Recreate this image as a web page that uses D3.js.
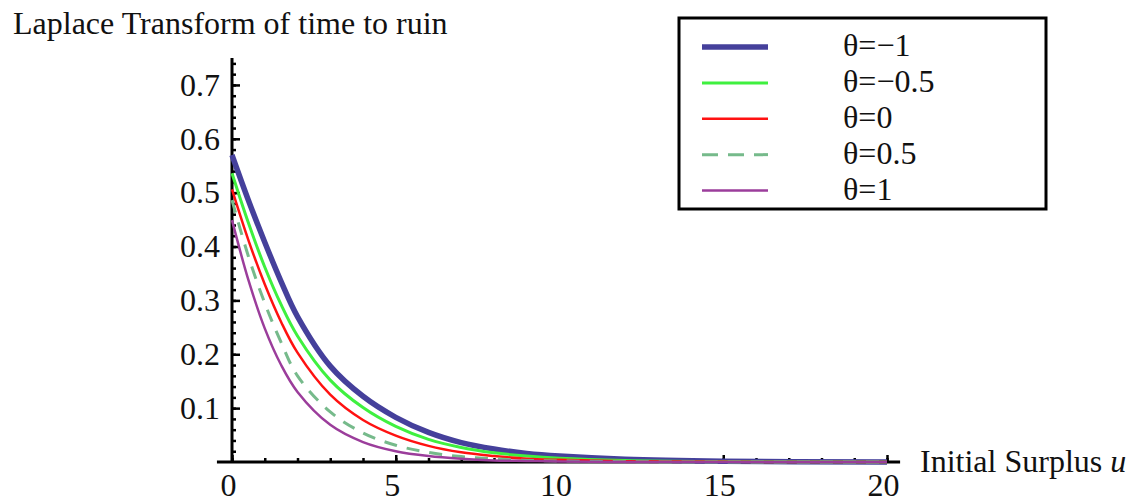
<!DOCTYPE html>
<html>
<head>
<meta charset="utf-8">
<script src="https://cdn.jsdelivr.net/npm/d3@7"></script>
<style>
  body { margin: 0; background: #fff; }
  text { font-family: "Liberation Serif", "DejaVu Serif", serif; fill: #111; }
</style>
</head>
<body>
<script>
var svgWidth = 1135;
var svgHeight = 504;

// data
var uValues = [0, 0.5, 1, 1.5, 2, 3, 4, 5, 6, 7, 8, 9, 10, 12, 15, 20];
var thetaLabels = ["θ=−1", "θ=−0.5", "θ=0", "θ=0.5", "θ=1"];
var thetaM1  = [0.570, 0.486, 0.408, 0.335, 0.270, 0.178, 0.122, 0.083, 0.055, 0.036, 0.024, 0.016, 0.011, 0.005, 0.0015, 0.0002];
var thetaM05 = [0.536, 0.444, 0.362, 0.292, 0.234, 0.152, 0.101, 0.066, 0.042, 0.027, 0.017, 0.011, 0.007, 0.003, 0.001, 0];
var theta0   = [0.506, 0.412, 0.330, 0.260, 0.203, 0.125, 0.078, 0.049, 0.030, 0.018, 0.011, 0.006, 0.004, 0.0015, 0.0003, 0];
var theta05  = [0.486, 0.382, 0.295, 0.222, 0.160, 0.093, 0.054, 0.031, 0.018, 0.010, 0.006, 0.003, 0.002, 0.0005, 0, 0];
var theta1   = [0.449, 0.338, 0.248, 0.180, 0.130, 0.069, 0.037, 0.020, 0.011, 0.006, 0.003, 0.002, 0.001, 0, 0, 0];
var xMajorTicks = [0, 5, 10, 15, 20];
var yMajorTicks = [0.1, 0.2, 0.3, 0.4, 0.5, 0.6, 0.7];

var seriesValues = [thetaM1, thetaM05, theta0, theta05, theta1];
var seriesColors = ["#45409b", "#3ff03f", "#ff1111", "#76ba8b", "#9b3d9b"];
var seriesWidths = [5.5, 3, 2.5, 3, 2.5];
var seriesDash = [null, null, null, "13,10", null];

var svg = d3.select('body').append('svg')
    .attr('width', svgWidth)
    .attr('height', svgHeight);

// scales
var xScale = d3.scaleLinear().domain([0, 20]).range([232, 887]);
var yScale = d3.scaleLinear().domain([0, 0.75]).range([462, 58]);

// x axis: ticks inside, labels below
var xAxisG = svg.append("g").attr("transform", `translate(0, ${yScale(0)})`);
xAxisG.append("g")
    .call(d3.axisTop(xScale).tickValues(d3.range(0, 21, 1)).tickSize(4).tickFormat(""))
    .call(g => g.select(".domain").remove());
xAxisG.append("g")
    .call(d3.axisTop(xScale).tickValues(xMajorTicks).tickSize(7).tickFormat(""))
    .call(g => g.select(".domain").remove());
xAxisG.selectAll(".tick line").attr("stroke", "#000").attr("stroke-width", 2.5);
xAxisG.append("g")
    .call(d3.axisBottom(xScale).tickValues(xMajorTicks).tickSize(0).tickPadding(11))
    .call(g => g.select(".domain").remove())
    .selectAll("text")
    .attr("dx", "-4px")
    .style("font-size", "32px")
    .style("font-family", "Liberation Serif");
xAxisG.append("line")
    .attr("x1", xScale(-0.46)).attr("x2", xScale(20.4))
    .attr("stroke", "#000").attr("stroke-width", 3);

// y axis
var yAxisG = svg.append("g").attr("transform", `translate(${xScale(0)}, 0)`);
yAxisG.append("g")
    .call(d3.axisRight(yScale).tickValues(d3.range(0.02, 0.75, 0.02)).tickSize(4).tickFormat(""))
    .call(g => g.select(".domain").remove());
yAxisG.append("g")
    .call(d3.axisRight(yScale).tickValues(yMajorTicks).tickSize(8).tickFormat(""))
    .call(g => g.select(".domain").remove());
yAxisG.selectAll(".tick line").attr("stroke", "#000").attr("stroke-width", 2.5);
yAxisG.append("g")
    .call(d3.axisLeft(yScale).tickValues(yMajorTicks).tickSize(0).tickPadding(12).tickFormat(d3.format(".1f")))
    .call(g => g.select(".domain").remove())
    .selectAll("text")
    .style("font-size", "32px")
    .style("font-family", "Liberation Serif");
yAxisG.append("line")
    .attr("y1", yScale(0)).attr("y2", yScale(0.75))
    .attr("stroke", "#000").attr("stroke-width", 3);

// axis titles
svg.append("text")
    .attr("x", 13).attr("y", 34)
    .style("font-size", "32px")
    .text("Laplace Transform of time to ruin");

var xTitle = svg.append("text")
    .attr("x", 920).attr("y", 472)
    .style("font-size", "32px");
xTitle.append("tspan").text("Initial Surplus ");
xTitle.append("tspan").style("font-style", "italic").text("u");

// curves
var line = d3.line()
    .x((d, i) => xScale(uValues[i]))
    .y(d => yScale(d))
    .curve(d3.curveCatmullRom.alpha(0.5));

svg.selectAll("path.curve")
    .data(seriesValues)
    .join("path")
    .attr("class", "curve")
    .attr("d", line)
    .attr("fill", "none")
    .attr("stroke", (d, i) => seriesColors[i])
    .attr("stroke-width", (d, i) => seriesWidths[i])
    .attr("stroke-dasharray", (d, i) => seriesDash[i])
    .attr("stroke-linejoin", "round");

// legend
var legend = svg.append("g");
legend.append("rect")
    .attr("x", 679).attr("y", 18)
    .attr("width", 367).attr("height", 191)
    .attr("fill", "#fff").attr("stroke", "#000").attr("stroke-width", 3);

var rowY = d3.scalePoint().domain(thetaLabels).range([47, 190.5]);

var rows = legend.selectAll("g.row")
    .data(thetaLabels)
    .join("g")
    .attr("class", "row")
    .attr("transform", d => `translate(0, ${rowY(d)})`);

rows.append("line")
    .attr("x1", 702).attr("x2", 768)
    .attr("stroke", (d, i) => seriesColors[i])
    .attr("stroke-width", (d, i) => seriesWidths[i])
    .attr("stroke-dasharray", (d, i) => seriesDash[i] ? "16,10" : null);

rows.append("text")
    .attr("x", 843).attr("y", 9)
    .style("font-size", "32px")
    .text(d => d);
</script>
</body>
</html>
